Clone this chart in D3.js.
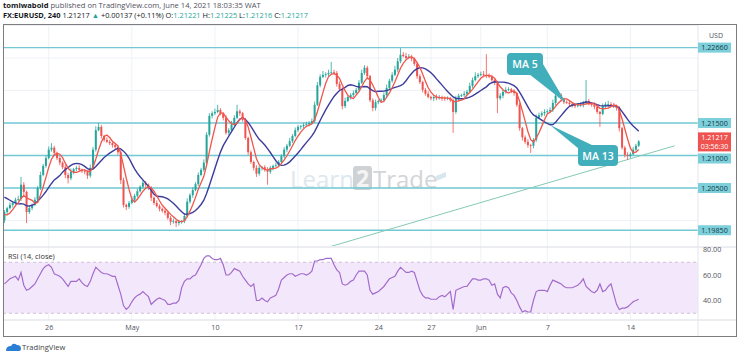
<!DOCTYPE html>
<html><head><meta charset="utf-8">
<script src="https://cdn.jsdelivr.net/npm/d3@7"></script>
<style>body{margin:0;background:#fff;}svg{display:block;font-family:"Open Sans",Roboto,sans-serif;}</style>
</head><body>
<svg id="c" width="740" height="357"></svg>
<script>
// ---------- DATA ----------
const priorCloses = [1.2050,1.2056,1.2058,1.2052,1.2055,1.2050,1.2053,1.2049,1.2020,1.2010,1.2002,1.2000];
const closes = [
1.2013,1.2019,1.2024,1.2027,1.2032,1.2033,1.2055,1.2044,1.2013,1.2019,
1.2024,1.2032,1.2050,1.2070,1.2084,1.2096,1.2109,1.2112,1.2104,1.2096,
1.2089,1.2082,1.2070,1.2065,1.2075,1.2079,1.2081,1.2078,1.2076,1.2075,
1.2069,1.2081,1.2109,1.2139,1.2144,1.2130,1.2124,1.2121,1.2119,1.2116,
1.2113,1.2105,1.2062,1.2024,1.2021,1.2027,1.2032,1.2038,1.2045,1.2052,
1.2058,1.2055,1.2050,1.2035,1.2027,1.2022,1.2018,1.2015,1.2012,1.2004,
1.1998,1.1999,1.1996,1.1998,1.1999,1.2007,1.2029,1.2039,1.2047,1.2056,
1.2070,1.2078,1.2089,1.2132,1.2161,1.2165,1.2167,1.2170,1.2165,1.2158,
1.2135,1.2139,1.2148,1.2158,1.2168,1.2165,1.2155,1.2127,1.2105,1.2090,
1.2081,1.2072,1.2081,1.2082,1.2078,1.2075,1.2081,1.2084,1.2085,1.2090,
1.2099,1.2109,1.2115,1.2122,1.2130,1.2139,1.2144,1.2145,1.2147,1.2148,
1.2150,1.2153,1.2178,1.2208,1.2221,1.2224,1.2225,1.2227,1.2228,1.2227,
1.2210,1.2202,1.2176,1.2184,1.2190,1.2193,1.2196,1.2201,1.2212,1.2227,
1.2235,1.2222,1.2185,1.2173,1.2182,1.2184,1.2185,1.2193,1.2204,1.2215,
1.2224,1.2232,1.2245,1.2255,1.2253,1.2250,1.2252,1.2249,1.2241,1.2222,
1.2213,1.2201,1.2195,1.2190,1.2188,1.2190,1.2188,1.2190,1.2188,1.2187,
1.2188,1.2185,1.2167,1.2188,1.2192,1.2193,1.2195,1.2198,1.2207,1.2216,
1.2222,1.2224,1.2225,1.2224,1.2222,1.2221,1.2216,1.2212,1.2188,1.2192,
1.2198,1.2201,1.2202,1.2199,1.2196,1.2178,1.2142,1.2128,1.2121,1.2116,
1.2115,1.2124,1.2158,1.2162,1.2165,1.2167,1.2168,1.2170,1.2181,1.2192,
1.2193,1.2187,1.2182,1.2181,1.2179,1.2178,1.2176,1.2178,1.2178,1.2181,
1.2184,1.2179,1.2178,1.2175,1.2167,1.2164,1.2176,1.2179,1.2179,1.2178,
1.2176,1.2173,1.2142,1.2112,1.2101,1.2099,1.2102,1.2109,1.2115,1.21217];
// wick lengths beyond the body, in pips
const wickHi = [
3,2,4,2,3,5,12,4,2,3, 2,4,3,5,3,4,5,7,3,2, 3,2,4,3,5,2,3,4,2,3, 2,5,4,6,6,3,2,4,3,2,
3,2,3,4,2,3,5,3,4,2, 4,3,2,3,2,4,3,2,3,2, 3,4,2,3,2,4,5,3,4,3, 4,3,5,4,4,3,5,8,3,2,
4,3,5,4,10,3,2,3,2,3, 2,4,3,2,3,4,3,2,4,3, 3,4,3,5,3,4,3,2,3,4, 3,4,5,5,4,6,3,5,16,4,
3,4,3,5,2,3,4,3,4,5, 4,3,2,3,4,2,3,4,5,3, 4,6,5,10,4,5,4,3,2,3, 3,2,3,4,2,3,4,3,2,3,
3,2,3,4,3,2,4,3,5,4, 6,3,4,5,32,4,3,2,3,4, 3,4,3,2,3,2,3,2,3,4, 2,3,5,4,3,4,3,4,5,3,
4,3,2,3,4,3,2,3,4,3, 32,3,2,4,3,2,4,3,5,3, 3,2,3,2,3,4,3,4,3,2];
const wickLo = [
4,3,2,4,3,2,3,5,17,3, 3,2,4,3,2,3,2,3,4,3, 4,3,5,8,3,4,3,2,3,4, 5,3,2,3,2,4,3,2,3,4,
3,4,6,4,5,3,2,4,3,2, 3,4,3,5,3,2,4,3,4,3, 5,3,6,4,3,3,2,3,4,2, 3,2,3,2,3,4,3,2,3,4,
3,4,2,3,2,4,3,3,4,3, 4,5,3,4,3,20,3,4,2,3, 2,3,4,2,3,2,3,4,3,2, 3,2,3,2,3,2,4,3,2,3,
4,3,5,3,2,4,3,2,3,2, 3,4,3,5,4,3,2,3,4,2, 3,2,4,3,2,3,2,4,3,4, 3,4,3,2,3,4,3,2,4,3,
2,3,32,3,4,2,3,4,2,3, 2,3,2,4,3,2,3,4,23,3, 4,3,2,3,4,3,4,5,3,4, 11,4,3,2,3,4,3,2,3,4,
3,4,3,2,3,4,3,2,3,4, 3,2,3,4,3,20,2,3,4,3, 3,4,5,3,4,6,3,2,3,2];
const rsi = [
53,55,57,58,59,56,62,52,48,49, 51,53,57,61,65,67,68,66,61,60, 59,57,54,51,55,55,55,57,54,52,
51,55,61,66,64,62,61,61,60,59, 59,52,45,36,33,35,39,42,44,45, 47,45,43,37,39,41,42,41,40,37,
37,38,38,40,50,55,57,57,59,60, 64,68,73,75,75,73,72,72,73,68, 60,60,62,65,64,63,59,56,53,51,
53,40,40,42,40,39,42,43,44,49, 56,58,60,61,61,59,60,61,61,60, 61,63,71,71,72,72,73,73,73,68,
64,62,53,52,53,55,56,60,63,63, 63,60,48,45,46,47,49,51,54,57, 58,59,63,66,64,62,62,63,62,55,
48,44,42,42,41,41,41,43,44,43, 45,47,33,48,49,50,51,51,54,57, 57,56,56,57,57,56,52,53,45,42,
50,51,50,46,44,40,35,31,32,31, 31,40,47,48,48,48,47,52,56,55, 54,53,51,50,50,50,51,52,54,57,
51,49,47,46,48,53,47,48,51,53, 45,37,33,34,34,35,37,39,40,41];
const dateLabels = ["26","May","10","17","24","27","Jun","7","14"];
const dateBars   = [16,46,76,106,135,154,172,196,226];
const priceTicks = [1.23,1.225,1.22,1.215,1.21,1.205,1.20];
const levels     = [1.2266,1.2150,1.2100,1.2050,1.1985];
const levelLabels= ["1.22660","1.21500","1.21000","1.20500","1.19850"];
const rsiTicks   = [80,60,40];
const rsiBand    = [70,30];
const trendPts   = [{bar:117,price:1.1959},{bar:242,price:1.2115}];
const lastPrice  = 1.21217, countdown = "03:56:30";

// ---------- LAYOUT ----------
const svg = d3.select("#c");
const L=3, R=698, T=24, PB=246, RT=247, RB=320, B=336, RX=736;
const x  = d3.scaleLinear().domain([0,229]).range([4.4,638.7]);
const y  = d3.scaleLinear().domain([1.20,1.22]).range([220.5,90.5]);
const yr = d3.scaleLinear().domain([40,60]).range([300.5,275]);

const defs = svg.append("defs");
defs.append("clipPath").attr("id","cp").append("rect").attr("x",L).attr("y",T).attr("width",R-L).attr("height",PB-T);
defs.append("clipPath").attr("id","cr").append("rect").attr("x",L).attr("y",RT).attr("width",R-L).attr("height",RB-RT);
defs.append("clipPath").attr("id","ca").append("rect").attr("x",R).attr("y",T+1).attr("width",RX-R).attr("height",PB-T);

// header
const h1 = svg.append("text").attr("x",3).attr("y",8).attr("font-size",7.6).attr("fill","#50535e");
h1.append("tspan").attr("font-weight",700).attr("fill","#131722").text("tomiwabold");
h1.append("tspan").text(" published on TradingView.com, June 14, 2021 18:03:35 WAT");
const h2 = svg.append("text").attr("x",3).attr("y",18).attr("font-size",7.4).attr("fill","#131722");
const g2 = "#26a69a";
h2.append("tspan").attr("font-weight",700).text("FX:EURUSD, 240 ");
h2.append("tspan").text(d3.format(".5f")(lastPrice)+" ");
h2.append("tspan").attr("fill",g2).text("▲");
h2.append("tspan").text(" +0.00137 (+0.11%) O:");
h2.append("tspan").attr("fill",g2).text("1.21221");
h2.append("tspan").text(" H:");
h2.append("tspan").attr("fill",g2).text("1.21225");
h2.append("tspan").text(" L:");
h2.append("tspan").attr("fill",g2).text("1.21216");
h2.append("tspan").text(" C:");
h2.append("tspan").attr("fill",g2).text("1.21217");

// grid
const grid = svg.append("g").attr("stroke","#eef1f6").attr("stroke-width",1);
grid.selectAll(".gv").data(dateBars).join("line").attr("x1",d=>x(d)).attr("x2",d=>x(d)).attr("y1",T).attr("y2",RB);
grid.selectAll(".gh").data(priceTicks).join("line").attr("clip-path","url(#cp)").attr("x1",L).attr("x2",R).attr("y1",d=>y(d)).attr("y2",d=>y(d));

// watermark
const wm = svg.append("g");
wm.append("text").attr("x",290).attr("y",188).attr("font-size",24).attr("fill","#dde8ee").text("Learn");
wm.append("rect").attr("x",353).attr("y",166).attr("width",19).attr("height",24).attr("rx",3).attr("fill","#cfd2d4");
wm.append("text").attr("x",362.5).attr("y",187).attr("text-anchor","middle").attr("font-size",23).attr("font-weight",700).attr("fill","#f4f4f4").text("2");
wm.append("text").attr("x",373).attr("y",188).attr("font-size",24).attr("fill","#d3d5d7").text("Trade");
wm.append("path").attr("d","M436,176 l10,-4 l0,5 l-10,4z").attr("fill","#d8e6ee");

// RSI pane
const rp = svg.append("g");
rp.append("rect").attr("x",L).attr("width",R-L).attr("y",yr(rsiBand[0])).attr("height",yr(rsiBand[1])-yr(rsiBand[0])).attr("fill","#f3e8fb");
rp.selectAll(".rb").data(rsiBand).join("line").attr("x1",L).attr("x2",R).attr("y1",d=>yr(d)).attr("y2",d=>yr(d))
  .attr("stroke","#c2b4d0").attr("stroke-dasharray","3,3").attr("stroke-width",0.8);
rp.append("path").attr("clip-path","url(#cr)").datum(rsi)
  .attr("d",d3.line().x((d,i)=>x(i)).y(d=>yr(d)))
  .attr("fill","none").attr("stroke","#a36ccb").attr("stroke-width",1.2);
rp.append("text").attr("x",8).attr("y",259).attr("font-size",7.4).attr("fill","#333").text("RSI (14, close)");

// horizontal levels
const lv = svg.append("g");
lv.selectAll("line").data(levels).join("line").attr("x1",L).attr("x2",R).attr("y1",d=>y(d)).attr("y2",d=>y(d))
  .attr("stroke","#72c8d4").attr("stroke-width",1.4);

// trendline
svg.append("line").attr("clip-path","url(#cp)")
  .attr("x1",x(trendPts[0].bar)).attr("y1",y(trendPts[0].price))
  .attr("x2",x(trendPts[1].bar)).attr("y2",y(trendPts[1].price))
  .attr("stroke","#84c9b4").attr("stroke-width",1);

// candles
const opens = closes.map((c,i)=> i===0 ? priorCloses[priorCloses.length-1] : closes[i-1]);
const cg = svg.append("g").attr("clip-path","url(#cp)");
const bars = closes.map((c,i)=>{
  const o=opens[i], up=c>=o;
  return {i,o,c,up,hi:Math.max(o,c)+wickHi[i]/1e4, lo:Math.min(o,c)-wickLo[i]/1e4};
});
cg.selectAll(".w").data(bars).join("line")
  .attr("x1",d=>x(d.i)).attr("x2",d=>x(d.i)).attr("y1",d=>y(d.hi)).attr("y2",d=>y(d.lo))
  .attr("stroke",d=>d.up?"#26a69a":"#ef5350").attr("stroke-width",0.8);
cg.selectAll(".b").data(bars).join("rect")
  .attr("x",d=>x(d.i)-1).attr("width",2)
  .attr("y",d=>y(Math.max(d.o,d.c))).attr("height",d=>Math.max(0.8,Math.abs(y(d.o)-y(d.c))))
  .attr("fill",d=>d.up?"#26a69a":"#ef5350");

// moving averages
const full = priorCloses.concat(closes);
const sma = n => closes.map((c,i)=> d3.mean(full.slice(i+priorCloses.length-n+1, i+priorCloses.length+1)));
const line = d3.line().x((d,i)=>x(i)).y(d=>y(d));
cg.append("path").datum(sma(13)).attr("d",line).attr("fill","none").attr("stroke","#3c3c9c").attr("stroke-width",1.4);
cg.append("path").datum(sma(5)).attr("d",line).attr("fill","none").attr("stroke","#f0564c").attr("stroke-width",1.3);

// callouts
const cc = "#41aebb";
const co = svg.append("g");
co.append("path").attr("d","M529,74 L543,64 L566,103 Z").attr("fill",cc);
co.append("rect").attr("x",507).attr("y",53).attr("width",36).attr("height",22).attr("rx",4).attr("fill",cc);
co.append("text").attr("x",525).attr("y",68).attr("text-anchor","middle").attr("font-size",10.5).attr("font-weight",600).attr("fill","#fff").text("MA 5");
co.append("path").attr("d","M579,149 L594,146 L550,125 Z").attr("fill",cc);
co.append("rect").attr("x",578).attr("y",145).attr("width",40).attr("height",21).attr("rx",4).attr("fill",cc);
co.append("text").attr("x",598).attr("y",159.5).attr("text-anchor","middle").attr("font-size",10.5).attr("font-weight",600).attr("fill","#fff").text("MA 13");

// separators & frame
svg.append("line").attr("x1",L).attr("x2",RX).attr("y1",RT).attr("y2",RT).attr("stroke","#d9dce3");
svg.append("line").attr("x1",L).attr("x2",RX).attr("y1",RB).attr("y2",RB).attr("stroke","#d9dce3");
svg.append("line").attr("x1",R).attr("x2",R).attr("y1",T).attr("y2",B).attr("stroke","#e3e6ec");

// price axis (labels hidden behind level boxes are left out)
const visibleTicks = priceTicks.filter(t => !levels.some(l => Math.abs(y(l)-y(t)) < 9));
const pa = svg.append("g").attr("transform",`translate(${R},0)`).attr("clip-path","url(#ca)")
  .call(d3.axisRight(y).tickValues(visibleTicks).tickFormat(d3.format(".5f")).tickSize(0).tickPadding(5));
pa.select(".domain").remove();
pa.selectAll("text").attr("font-size",7.2).attr("fill","#50535e").attr("font-family","Open Sans, sans-serif");
svg.append("text").attr("x",716).attr("y",38).attr("text-anchor","middle").attr("font-size",7).attr("fill","#50535e").text("USD");

// level boxes
const lb = svg.append("g");
levels.forEach((v,k)=>{
  const cy = levelLabels[k]==="1.21000" ? y(v)+3 : y(v);
  lb.append("rect").attr("x",R).attr("y",cy-5).attr("width",33).attr("height",10).attr("fill","#7dcfdb");
  lb.append("text").attr("x",R+16.5).attr("y",cy+2.6).attr("text-anchor","middle").attr("font-size",7.2).attr("fill","#17393f").text(levelLabels[k]);
});
const cy0 = y(lastPrice);
lb.append("rect").attr("x",R).attr("y",cy0-9).attr("width",33).attr("height",19).attr("fill","#ef5350");
lb.append("text").attr("x",R+16.5).attr("y",cy0-1.5).attr("text-anchor","middle").attr("font-size",7.2).attr("fill","#fff").text(d3.format(".5f")(lastPrice));
lb.append("text").attr("x",R+16.5).attr("y",cy0+7.5).attr("text-anchor","middle").attr("font-size",7).attr("fill","#fff").text(countdown);

// rsi axis
const ra = svg.append("g").attr("transform",`translate(${R},0)`)
  .call(d3.axisRight(yr).tickValues(rsiTicks).tickFormat(d3.format(".2f")).tickSize(0).tickPadding(5));
ra.select(".domain").remove();
ra.selectAll("text").attr("font-size",7.2).attr("fill","#50535e").attr("font-family","Open Sans, sans-serif");

// date axis
const da = svg.append("g").attr("transform",`translate(0,${RB})`)
  .call(d3.axisBottom(x).tickValues(dateBars).tickFormat((d,k)=>dateLabels[k]).tickSize(0).tickPadding(5));
da.select(".domain").remove();
da.selectAll("text").attr("font-size",7.2).attr("fill","#50535e").attr("font-family","Open Sans, sans-serif");

// frame
svg.append("rect").attr("x",L+0.5).attr("y",T+0.5).attr("width",RX-L).attr("height",B-T).attr("fill","none").attr("stroke","#7d7d7d");

// footer logo
const ft = svg.append("g");
ft.append("path").attr("d","M6,351 q0,-5 5,-5 q2,-4 6,-1 q4,0 4,4 q0,2 -2,2 z").attr("fill","#2a7fd4");
ft.append("text").attr("x",22).attr("y",350).attr("font-size",7.6).attr("fill","#444").text("TradingView");
</script>
</body></html>
